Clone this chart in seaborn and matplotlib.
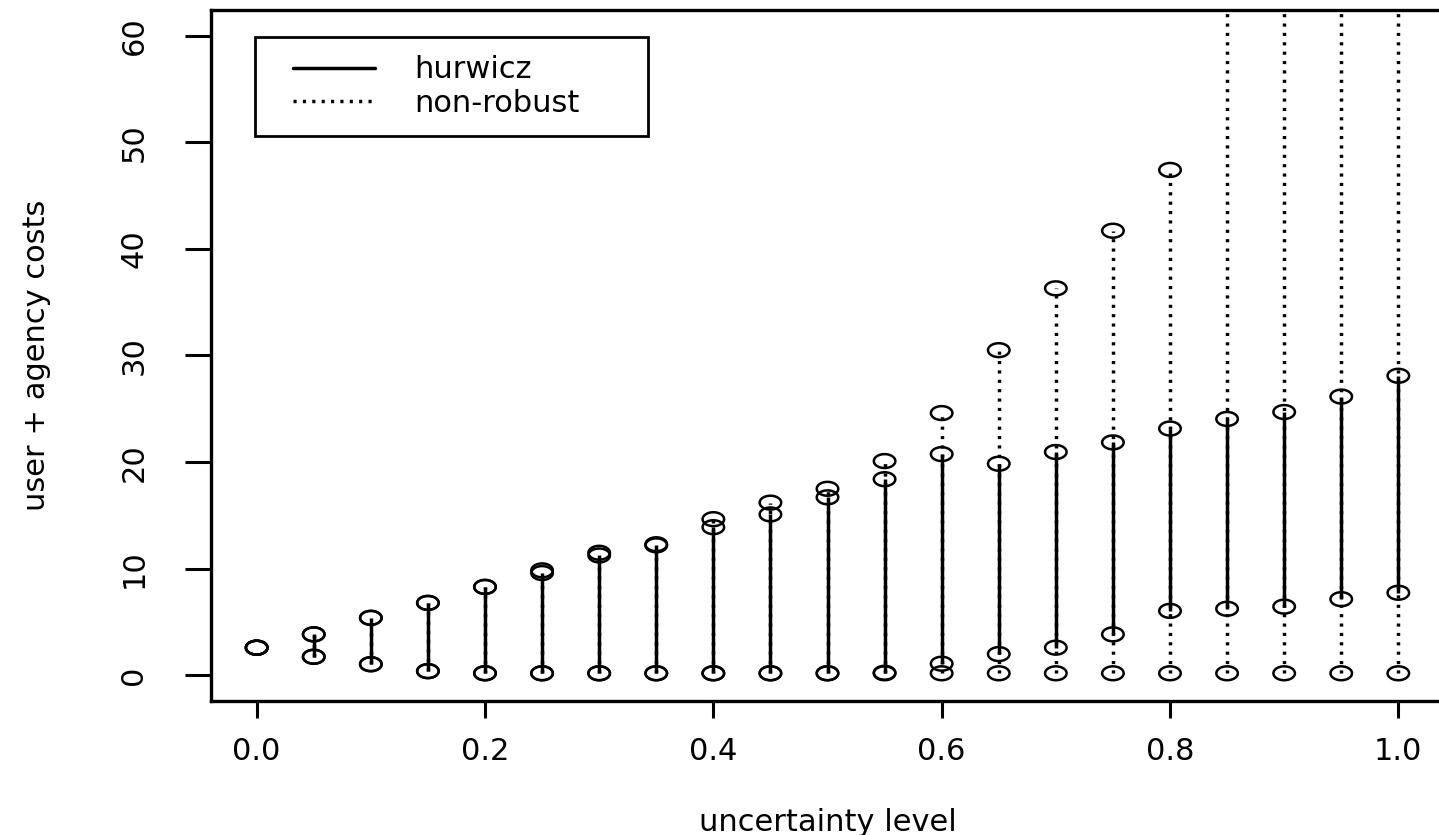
import numpy as np
import pandas as pd
import matplotlib
matplotlib.use("Agg")
import matplotlib.pyplot as plt
from matplotlib.path import Path
from matplotlib.lines import Line2D
from matplotlib.legend_handler import HandlerLine2D
import seaborn as sns

# ---- data ----
uncertainty = [0.00, 0.05, 0.10, 0.15, 0.20, 0.25, 0.30, 0.35, 0.40, 0.45, 0.50,
               0.55, 0.60, 0.65, 0.70, 0.75, 0.80, 0.85, 0.90, 0.95, 1.00]
hurwicz_min = [2.6, 1.75, 1.05, 0.4, 0.2, 0.2, 0.2, 0.2, 0.2, 0.2, 0.2,
               0.25, 1.1, 2.0, 2.6, 3.85, 6.05, 6.25, 6.45, 7.15, 7.75]
hurwicz_max = [2.6, 3.85, 5.4, 6.8, 8.3, 9.6, 11.25, 12.2, 13.9, 15.1, 16.7,
               18.4, 20.75, 19.85, 20.95, 21.85, 23.15, 24.05, 24.7, 26.15, 28.1]
nonrobust_min = [2.6, 1.75, 1.05, 0.4, 0.2, 0.2, 0.2, 0.2, 0.2, 0.2, 0.2,
                 0.2, 0.2, 0.2, 0.2, 0.2, 0.2, 0.2, 0.2, 0.2, 0.2]
nonrobust_max = [2.6, 3.85, 5.4, 6.8, 8.3, 9.85, 11.5, 12.3, 14.65, 16.2, 17.5,
                 20.1, 24.6, 30.5, 36.3, 41.7, 47.4, 66.0, 72.0, 78.0, 84.0]
series_labels = ["hurwicz", "non-robust"]
x_ticks = [0.0, 0.2, 0.4, 0.6, 0.8, 1.0]
x_ticklabels = ["0.0", "0.2", "0.4", "0.6", "0.8", "1.0"]
y_ticks = [0, 10, 20, 30, 40, 50, 60]
y_ticklabels = ["0", "10", "20", "30", "40", "50", "60"]
x_label = "uncertainty level"
y_label = "user + agency costs"

# ---- style ----
sns.set_style("white")
plt.rcParams["font.family"] = ["DejaVu Sans"]
for k in ["text.color", "axes.labelcolor", "xtick.color", "ytick.color",
          "axes.edgecolor"]:
    plt.rcParams[k] = "black"
plt.rcParams["xtick.bottom"] = True
plt.rcParams["ytick.left"] = True
FS = 22

W, H = 1439, 835
fig = plt.figure(figsize=(W / 100, H / 100), dpi=100)
left_px, right_px, top_px, bottom_px = 211, 1444, 10, 701
ax = fig.add_axes([left_px / W, (H - bottom_px) / H,
                   (right_px - left_px) / W, (bottom_px - top_px) / H])

LW = 2.5
DOT = (0, (0.9, 1.8))

# vertical ranges
ax.vlines(uncertainty, nonrobust_min, nonrobust_max, colors="black",
          linewidth=LW, linestyles=[DOT], zorder=2)
ax.vlines(uncertainty, hurwicz_min, hurwicz_max, colors="black",
          linewidth=LW, linestyles="solid", zorder=3)

# open (slightly wide) circles at range ends
theta = np.linspace(0, 2 * np.pi, 60)
ellipse = Path(np.column_stack([1.55 * np.cos(theta), np.sin(theta)]), closed=True)

pts = pd.DataFrame({
    "x": uncertainty * 4,
    "y": hurwicz_min + hurwicz_max + nonrobust_min + nonrobust_max,
})
sns.scatterplot(data=pts, x="x", y="y", ax=ax, marker=ellipse, s=240,
                facecolor="none", edgecolor="black", linewidth=1.8,
                legend=False, zorder=4)

ax.set_xlim(-0.04, 1.04)
ax.set_ylim(-2.4, 62.4)
ax.set_xticks(x_ticks)
ax.set_xticklabels(x_ticklabels, fontsize=FS)
ax.set_yticks(y_ticks)
ax.set_yticklabels(y_ticklabels, fontsize=FS, rotation=90, va="center")
ax.tick_params(axis="x", bottom=True, length=12, width=2.2, pad=14, color="black",
               direction="out")
ax.tick_params(axis="y", left=True, length=19, width=2.2, pad=26, color="black",
               direction="out")
ax.set_xlabel(x_label, fontsize=FS, labelpad=30)
ax.set_ylabel(y_label, fontsize=FS, labelpad=49)
for sp in ax.spines.values():
    sp.set_color("black")
    sp.set_linewidth(2.4)


class ShiftedLineHandler(HandlerLine2D):
    """Legend line that starts a little to the right inside its handle box."""
    def __init__(self, shift=0.19, **kw):
        super().__init__(**kw)
        self._shift = shift

    def get_xdata(self, legend, xdescent, ydescent, width, height, fontsize):
        x0, x1 = -xdescent, -xdescent + width
        x0 = x0 + self._shift * (x1 - x0)
        return np.array([x0, x1]), np.array([0.5 * (x0 + x1)])


handles = [Line2D([], [], color="black", linewidth=LW, linestyle="-"),
           Line2D([], [], color="black", linewidth=LW, linestyle=DOT)]
leg = ax.legend(handles, series_labels, loc="upper left",
                bbox_to_anchor=(255 / W, 1 - 136 / H, 393 / W, 99 / H),
                bbox_transform=fig.transFigure, mode="expand",
                frameon=True, fancybox=False, edgecolor="black", framealpha=1,
                fontsize=FS, handlelength=3.32, handletextpad=1.3,
                borderpad=0.6, labelspacing=0.15, borderaxespad=0,
                handler_map={h: ShiftedLineHandler() for h in handles})
leg.get_frame().set_linewidth(2.0)

fig.savefig("out.png", dpi=100)
